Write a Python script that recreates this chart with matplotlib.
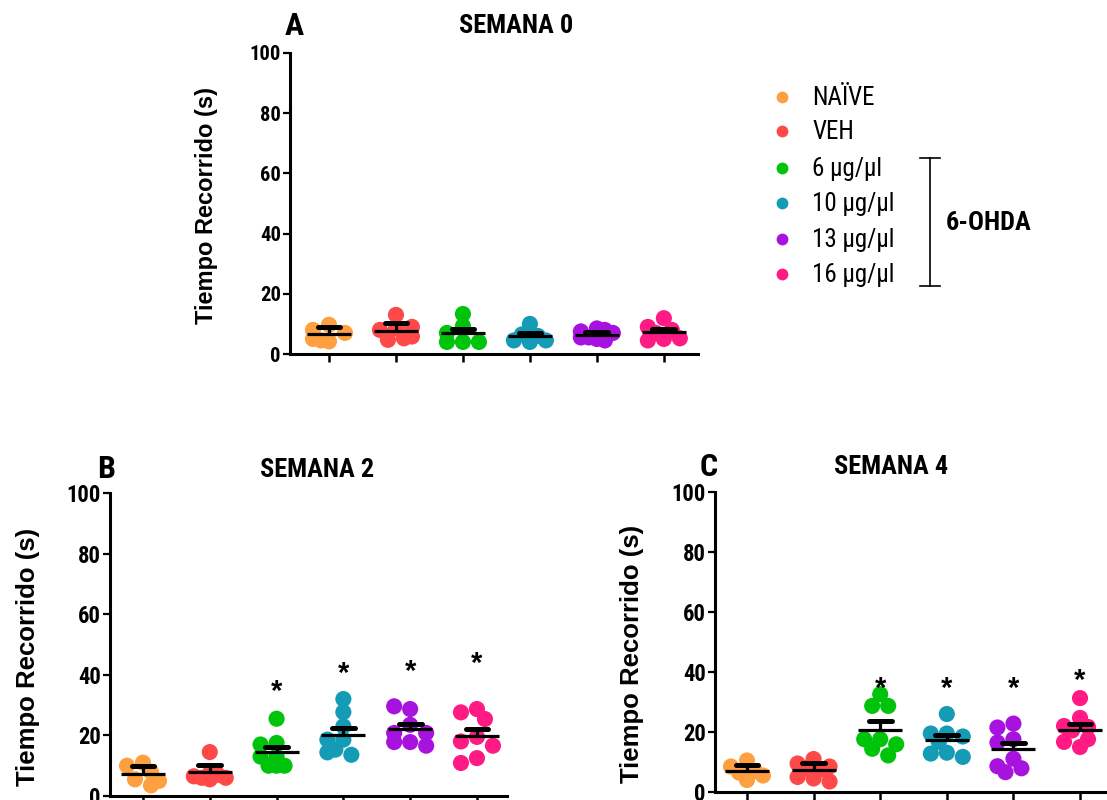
import matplotlib
matplotlib.use('Agg')
import matplotlib.pyplot as plt
from matplotlib import font_manager
from matplotlib.font_manager import FontProperties
import numpy as np

# ---------------- data ----------------
categories = ['NAÏVE', 'VEH', '6 μg/μl', '10 μg/μl', '13 μg/μl', '16 μg/μl']
colors = ['#FFA040', '#FF4848', '#00C40C', '#149CB6', '#A812DE', '#FF1A84']

# Semana 0 (panel A)
a_naive = [9.7, 8.0, 7.0, 4.2, 5.0, 4.5]
a_veh = [13.0, 8.5, 8.0, 5.8, 4.7, 5.2, 9.0]
a_6 = [13.3, 9.3, 7.0, 4.0, 4.0, 4.0]
a_10 = [10.0, 6.5, 6.0, 4.5, 4.0, 4.5, 6.5]
a_13 = [8.5, 7.5, 7.0, 5.5, 4.5, 5.0, 5.5, 8.0]
a_16 = [11.9, 9.0, 8.0, 5.0, 4.5, 5.2, 7.0]
a_mean = [6.6, 7.8, 6.9, 6.0, 6.4, 7.2]
a_sem = [2.5, 2.6, 1.4, 0.9, 0.8, 1.0]

# Semana 2 (panel B)
b_naive = [11.0, 10.0, 8.0, 5.5, 3.5, 5.0]
b_veh = [14.5, 7.5, 6.5, 6.0, 6.0, 7.0, 5.5]
b_6 = [25.5, 17.5, 17.0, 13.0, 13.0, 10.0, 10.0, 10.0]
b_10 = [32.0, 27.7, 23.0, 18.6, 18.6, 15.3, 13.6, 14.4]
b_13 = [28.7, 29.6, 23.5, 20.8, 20.8, 17.8, 17.8, 16.6]
b_16 = [28.7, 27.6, 25.4, 19.5, 18.0, 16.6, 12.5, 10.9]
b_mean = [7.3, 7.9, 14.5, 20.2, 22.1, 19.9]
b_sem = [2.7, 2.4, 1.7, 2.2, 1.8, 2.2]
b_star = [None, None, 37.3, 43.3, 44.0, 46.6]

# Semana 4 (panel C)
c_naive = [10.5, 8.5, 7.0, 6.5, 5.5, 4.0]
c_veh = [11.0, 9.5, 8.5, 8.0, 7.5, 5.0, 4.5, 3.5]
c_6 = [32.6, 28.7, 28.7, 17.6, 17.6, 15.9, 14.4, 12.2]
c_10 = [26.0, 19.5, 19.5, 18.5, 16.7, 13.1, 12.8, 11.7]
c_13 = [22.8, 21.5, 17.6, 16.5, 11.1, 8.6, 7.9, 6.6]
c_16 = [31.3, 24.7, 22.0, 21.7, 20.5, 17.6, 16.7, 15.0]
c_mean = [7.1, 7.2, 20.8, 17.5, 14.2, 20.6]
c_sem = [1.8, 2.6, 2.8, 1.6, 2.3, 2.2]
c_star = [None, None, 37.2, 37.2, 37.2, 40.0]

yticks = [0, 20, 40, 60, 80, 100]
ylabel = 'Tiempo Recorrido (s)'
group_label = '6-OHDA'

# ---------------- fonts ----------------
names = {f.name for f in font_manager.fontManager.ttflist}
WIDE = 'Liberation Sans' if 'Liberation Sans' in names else 'DejaVu Sans'
FAM_W = [WIDE, 'DejaVu Sans']


def find_narrow(bold):
    prefs = ['Liberation Sans Narrow', 'Arial Narrow', 'Roboto Condensed',
             'Open Sans Condensed', 'Noto Sans Condensed']
    fl = font_manager.fontManager.ttflist
    for p in prefs:
        for f in fl:
            if f.name == p and f.style == 'normal':
                isb = (f.weight in ('bold', 700) or
                       (isinstance(f.weight, int) and f.weight >= 600))
                if isb == bold:
                    return f.fname
    return None


NB = find_narrow(True)
NR = find_narrow(False)
HAVE_NARROW = NB is not None and NR is not None


def fp_bold(size):
    if HAVE_NARROW:
        return FontProperties(fname=NB, size=size)
    return FontProperties(family=FAM_W, weight='bold', size=size * 0.85)


def fp_reg(size):
    if HAVE_NARROW:
        return FontProperties(fname=NR, size=size)
    return FontProperties(family=FAM_W, size=size * 0.88)


W, H = 1107, 800
fig = plt.figure(figsize=(W / 100, H / 100), dpi=100)


def fx(px):
    return px / W


def fy(py):
    return 1 - py / H


def swarm_offsets(values, ppx, ppy, step=8.0, max_k=2, thresh=12.0):
    cand = [0.0]
    for k in range(1, max_k + 1):
        cand += [-k * step, k * step]
    placed = []
    offs = []
    for v in values:
        y = v * ppy
        chosen = None
        best_c, best_d = 0.0, -1.0
        for c in cand:
            if placed:
                d = min(np.hypot(c - px, y - py) for px, py in placed)
            else:
                d = np.inf
            if d >= thresh:
                chosen = c
                break
            if d > best_d:
                best_d, best_c = d, c
        if chosen is None:
            chosen = best_c
        placed.append((chosen, y))
        offs.append(chosen / ppx)
    return offs


def panel(rect_px, xlim, groups, means, sems, stars, tick_fs, ylab_xy, ylab_fs):
    l, t, r, b = rect_px
    ax = fig.add_axes([fx(l), fy(b), fx(r - l), (b - t) / H])
    ax.set_xlim(*xlim)
    ax.set_ylim(0, 100)
    ppx = (r - l) / (xlim[1] - xlim[0])
    ppy = (b - t) / 100.0
    for i, vals in enumerate(groups):
        offs = swarm_offsets(vals, ppx, ppy)
        ax.scatter(np.array(offs) + i, vals, s=135, color=colors[i],
                   edgecolors='none', zorder=3, clip_on=False)
        m, e = means[i], sems[i]
        ax.hlines(m, i - 0.33, i + 0.33, color='black', lw=2.3, zorder=5)
        ax.vlines(i, m, m + e, color='black', lw=2.3, zorder=5)
        cap = ax.hlines(m + e, i - 0.17, i + 0.17, color='black', lw=3.6, zorder=5)
        cap.set_capstyle('round')
        if stars is not None and stars[i] is not None:
            fs = 21
            ax.annotate('*', xy=(i, stars[i]), xytext=(0, -0.58 * fs),
                        textcoords='offset points', ha='center', va='baseline',
                        fontsize=fs, fontweight='bold', family=FAM_W)
    for s in ('top', 'right'):
        ax.spines[s].set_visible(False)
    for s in ('left', 'bottom'):
        ax.spines[s].set_linewidth(2.2)
        ax.spines[s].set_capstyle('projecting')
    ax.set_yticks(yticks)
    ax.set_yticklabels([str(v) for v in yticks])
    ax.set_xticks(range(len(groups)))
    ax.set_xticklabels([])
    ax.tick_params(axis='y', direction='out', length=5, width=1.6, pad=1.5)
    ax.tick_params(axis='x', direction='out', length=6, width=1.8)
    for lab in ax.get_yticklabels():
        lab.set_fontproperties(fp_bold(tick_fs))
    fig.text(fx(ylab_xy[0]), fy(ylab_xy[1]), ylabel, rotation=90, ha='center',
             va='center', fontsize=ylab_fs, fontweight='bold', family=FAM_W)
    return ax


# Panel A
panel((290, 53, 698, 354), (-0.582, 5.51),
      [a_naive, a_veh, a_6, a_10, a_13, a_16], a_mean, a_sem, None,
      14.8, (207, 206), 17)
# Panel B
panel((110, 493, 507, 796), (-0.494, 5.45),
      [b_naive, b_veh, b_6, b_10, b_13, b_16], b_mean, b_sem, b_star,
      16.3, (28, 657), 18.5)
# Panel C
panel((715, 492, 1110, 792), (-0.48, 5.45),
      [c_naive, c_veh, c_6, c_10, c_13, c_16], c_mean, c_sem, c_star,
      16.3, (632, 654), 18.5)

# Titles and panel letters
fig.text(fx(516), fy(33), 'SEMANA 0', ha='center', va='baseline', fontproperties=fp_bold(19))
fig.text(fx(317), fy(477), 'SEMANA 2', ha='center', va='baseline', fontproperties=fp_bold(19))
fig.text(fx(891), fy(474), 'SEMANA 4', ha='center', va='baseline', fontproperties=fp_bold(19))
fig.text(fx(285), fy(35), 'A', ha='left', va='baseline', fontproperties=fp_bold(23))
fig.text(fx(97), fy(478), 'B', ha='left', va='baseline', fontproperties=fp_bold(23))
fig.text(fx(700), fy(476), 'C', ha='left', va='baseline', fontproperties=fp_bold(23))

# Legend (overlay in pixel coordinates)
ov = fig.add_axes([0, 0, 1, 1])
ov.set_xlim(0, W)
ov.set_ylim(H, 0)
ov.axis('off')
row_y = [97, 131, 168, 203, 239, 274]
for i, lab in enumerate(categories):
    ov.plot([782], [row_y[i]], 'o', color=colors[i], markersize=8.5, mec='none')
    ov.text(812, row_y[i] + 8, lab, ha='left', va='baseline',
            fontproperties=fp_reg(18), family=FAM_W if not HAVE_NARROW else None)
ov.plot([930, 930], [158, 286], color='black', lw=1.2)
ov.plot([920, 940], [158, 158], color='black', lw=1.2)
ov.plot([920, 940], [286, 286], color='black', lw=1.2)
ov.text(946, 230, group_label, ha='left', va='baseline', fontproperties=fp_bold(19))

fig.savefig('out.png', dpi=100)
